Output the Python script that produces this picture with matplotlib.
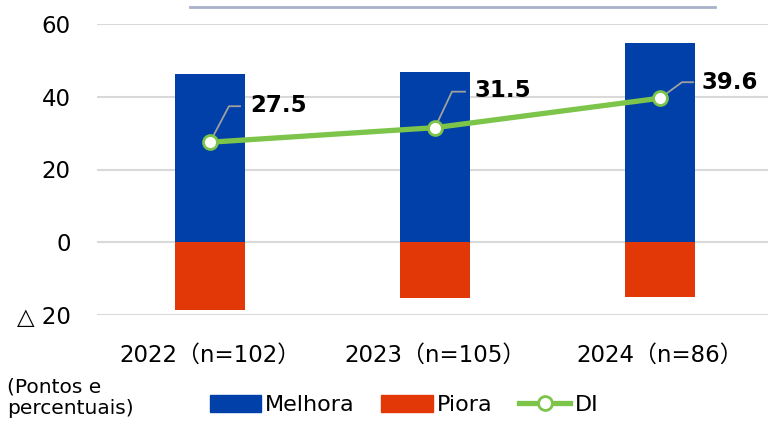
import matplotlib
matplotlib.use("Agg")
import matplotlib.pyplot as plt
from matplotlib.patches import Patch
from matplotlib.lines import Line2D

plt.rcParams['font.family'] = ['DejaVu Sans', 'Noto Sans CJK JP']

# data
categories = ["2022（n=102）", "2023（n=105）", "2024（n=86）"]
melhora = [46.2, 46.7, 54.7]
piora = [18.7, 15.2, 15.1]
di = [27.5, 31.5, 39.6]
y_ticks = [-20, 0, 20, 40, 60]
y_tick_labels = ["△ 20", "0", "20", "40", "60"]

# label offsets in pixels: (text dx, text dy, elbow dx, elbow dy, end dx)
label_offsets = [(40, 37, 19, 36, 30), (40, 37, 17, 36, 30), (42, 16, 22, 16, 33)]

blue = "#0040A8"
red = "#E23808"
green = "#7DC54A"

fig = plt.figure(figsize=(7.68, 4.22), dpi=100)
ax = fig.add_axes([97 / 768, 1 - 315 / 422, 1 - 97 / 768, (315 - 24) / 422])

x = list(range(len(categories)))
ax.bar(x, melhora, width=0.31, color=blue, zorder=2)
ax.bar(x, [-p for p in piora], width=0.31, color=red, zorder=2)
ax.plot(x, di, color=green, lw=3.8, marker="o", ms=10, mfc="white",
        mec=green, mew=2, zorder=4)

ax.set_xlim(-0.502, 2.48)
ax.set_ylim(-20, 60)
ax.set_yticks(y_ticks)
ax.set_yticklabels(y_tick_labels)
ax.set_xticks(x)
ax.set_xticklabels(categories)
ax.tick_params(axis="both", length=0, labelsize=16.5)
ax.tick_params(axis="y", pad=19)
ax.tick_params(axis="x", pad=21)
ax.grid(axis="y", color="#D9D9D9", lw=1.5, zorder=0)
ax.set_axisbelow(True)
for s in ax.spines.values():
    s.set_visible(False)

# data labels with little leader lines (offsets in pixels)
inv = ax.transData.inverted()
for xi, v, off in zip(x, di, label_offsets):
    tdx, tdy, edx, edy, endx = off
    px, py = ax.transData.transform((xi, v))
    p1 = inv.transform((px + edx, py + edy))
    p2 = inv.transform((px + endx, py + edy))
    ax.plot([xi, p1[0], p2[0]], [v, p1[1], p2[1]], color="#A0A0A0", lw=1.3, zorder=3.5)
    tp = inv.transform((px + tdx, py + tdy))
    ax.text(tp[0], tp[1], f"{v:.1f}", fontsize=16.5, fontweight="bold",
            ha="left", va="center", zorder=5)

# thin line at the top of the frame
fig.add_artist(Line2D([190 / 768, 715 / 768], [1 - 7 / 422, 1 - 7 / 422],
                      color="#A7B1C9", lw=2))

fig.text(7 / 768, 1 - 398 / 422, "(Pontos e\npercentuais)", fontsize=14.5,
         ha="left", va="center", linespacing=1.15)

handles = [Patch(color=blue, label="Melhora"),
           Patch(color=red, label="Piora"),
           Line2D([], [], color=green, lw=3.8, marker="o", ms=10, mfc="white",
                  mec=green, mew=2, label="DI")]
fig.legend(handles=handles, ncol=3, loc="center", frameon=False, fontsize=16,
           bbox_to_anchor=(404 / 768, 1 - 405 / 422), handlelength=2.3,
           handleheight=0.8, handletextpad=0.2, columnspacing=1.2)

fig.savefig("out.png", dpi=100)
